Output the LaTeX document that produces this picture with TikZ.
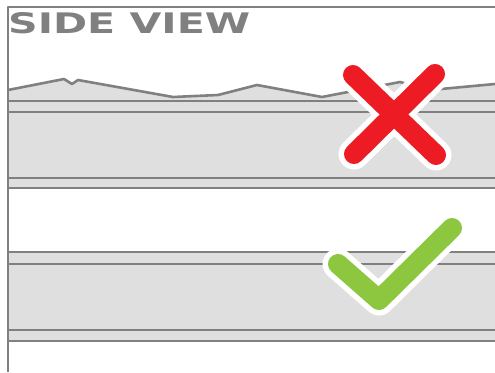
\documentclass[tikz,border=0pt]{standalone}
\usepackage{fontspec}
\newfontfamily\titlefont{DejaVu Sans}
\definecolor{framegray}{RGB}{128, 128, 128}
\definecolor{roadgray}{RGB}{223, 223, 223}
\definecolor{markred}{RGB}{237, 28, 36}
\definecolor{markgreen}{RGB}{141, 198, 63}

\begin{document}
\begin{tikzpicture}[x=1pt, y=-1pt, line join=round,
    edge/.style={framegray, line width=2.6pt},
    halo/.style={white, line width=31pt, line cap=round},
    signstroke/.style={line width=20pt, line cap=round}]
            \useasboundingbox (0,0) rectangle (495,372);

            % Upper road, uneven surface
            \fill[roadgray] (8,90) -- (64,79) -- (72,84) -- (78,80) -- (173,97) -- (218,95) -- (257,85) -- (322,97) -- (400,82) -- (430,90) -- (495,84) -- (495,188) -- (8,188) -- cycle;
            \draw[edge] (8,90) -- (64,79) -- (72,84) -- (78,80) -- (173,97) -- (218,95) -- (257,85) -- (322,97) -- (400,82) -- (430,90) -- (495,84);
            \draw[edge] (8,101) -- (495,101);
            \draw[edge] (8,112) -- (495,112);
            \draw[edge] (8,178) -- (495,178);
            \draw[edge] (8,188) -- (495,188);

            % Lower road, flat surface
            \fill[roadgray] (8,252) rectangle (495,341);
            \draw[edge] (8,252) -- (495,252);
            \draw[edge] (8,264) -- (495,264);
            \draw[edge] (8,330) -- (495,330);
            \draw[edge] (8,341) -- (495,341);

            % Frame and title
            \draw[edge] (8,372) -- (8,7) -- (495,7);
            \node[anchor=north west, inner sep=0pt, text=framegray] (title) at (8,12) {\resizebox{242pt}{21pt}{\titlefont\bfseries SIDE VIEW}};

            % Cross
            \draw[halo] (353,75) -- (436,155) (435,74) -- (354,154);
            \draw[signstroke, markred] (353,75) -- (436,155) (435,74) -- (354,154);

            % Check
            \draw[halo] (338,264) -- (379,300) -- (452,228);
            \draw[signstroke, markgreen] (338,264) -- (379,300) -- (452,228);
        \end{tikzpicture}
\end{document}
